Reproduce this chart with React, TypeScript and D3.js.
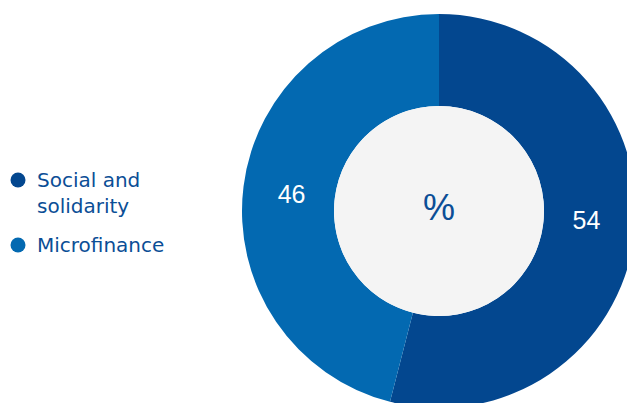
import React from "react";
import * as d3 from "d3";

const categories = ["Social and solidarity", "Microfinance"];
const legendLines = [["Social and", "solidarity"], ["Microfinance"]];
const values = [54, 46];
const colors = ["#03478F", "#0369B1"];

export default function App() {
  const W = 627, H = 403;
  const cx = 439, cy = 211;
  const outerR = 197, innerR = 105;
  const pie = d3.pie<number>().sort(null).value((d) => d);
  const arcs = pie(values);
  const arc = d3.arc<d3.PieArcDatum<number>>().innerRadius(innerR).outerRadius(outerR);
  const labelR = 148;
  const shift = (-2 * Math.PI) / 180;
  const legendY = [180, 245];
  return (
    <svg width={W} height={H} style={{ position: "absolute", left: 0, top: 0 }} fontFamily="'Liberation Sans', Arial, sans-serif">
      <g transform={`translate(${cx},${cy})`}>
        {arcs.map((a, i) => (
          <path key={i} d={arc(a) || ""} fill={colors[i]} />
        ))}
        <circle r={innerR} fill="#F4F4F4" />
        <text x={0} y={-4} textAnchor="middle" dominantBaseline="central" fontSize={36} fill="#0B4E96" fontWeight={300}>%</text>
        {arcs.map((a, i) => {
          const m = (a.startAngle + a.endAngle) / 2 + shift;
          const lx = labelR * Math.sin(m);
          const ly = -labelR * Math.cos(m) - 4;
          return (
            <text key={i} x={lx} y={ly} textAnchor="middle" dominantBaseline="central" fontSize={25} fill="#fff">
              {values[i]}
            </text>
          );
        })}
      </g>
      {categories.map((c, i) => (
        <g key={c}>
          <circle cx={18} cy={legendY[i]} r={7.5} fill={colors[i]} />
          {legendLines[i].map((ln, j) => (
            <text key={j} x={37} y={legendY[i] + 7 + j * 26} fontSize={20} fill="#0B4E96" fontFamily="'DejaVu Sans', sans-serif">{ln}</text>
          ))}
        </g>
      ))}
    </svg>
  );
}
